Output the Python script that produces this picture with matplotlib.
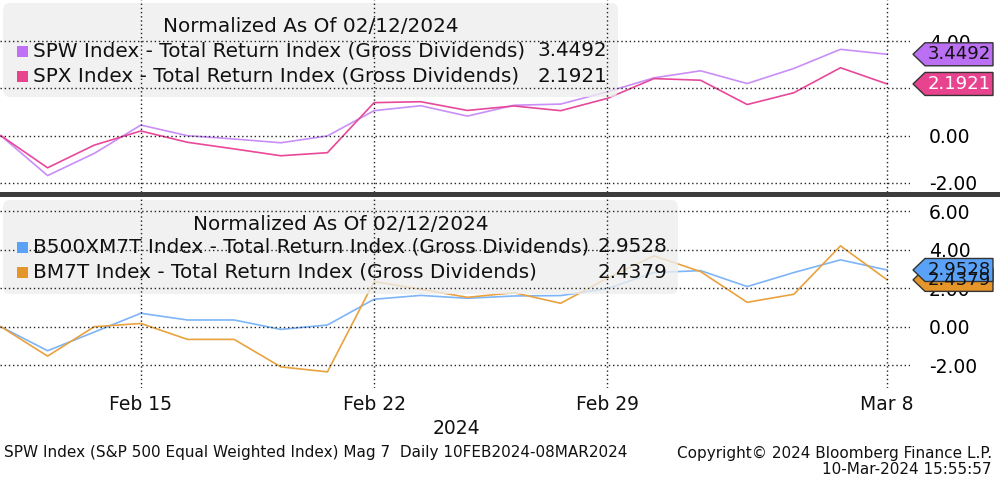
import matplotlib
matplotlib.use("Agg")
import matplotlib.pyplot as plt
import matplotlib.patches as mpatches
import matplotlib.transforms as mtransforms

# jours ouvrés du 12 fév au 8 mars 2024 (Bloomberg garde le 19 fév)
dates = ['Feb 12', 'Feb 13', 'Feb 14', 'Feb 15', 'Feb 16', 'Feb 19', 'Feb 20', 'Feb 21',
         'Feb 22', 'Feb 23', 'Feb 26', 'Feb 27', 'Feb 28', 'Feb 29', 'Mar 1', 'Mar 4',
         'Mar 5', 'Mar 6', 'Mar 7', 'Mar 8']
tick_labels = ['Feb 15', 'Feb 22', 'Feb 29', 'Mar 8']

# panneau du haut
spw = [0, -1.69, -0.75, 0.45, 0.0, -0.14, -0.30, -0.01, 1.06, 1.27, 0.83, 1.29, 1.34,
       1.86, 2.45, 2.75, 2.21, 2.85, 3.66, 3.4492]
spx = [0, -1.36, -0.40, 0.20, -0.28, -0.56, -0.85, -0.72, 1.40, 1.44, 1.07, 1.26, 1.06,
       1.58, 2.42, 2.35, 1.32, 1.82, 2.88, 2.1921]
# panneau du bas
b500 = [0, -1.25, -0.28, 0.70, 0.35, 0.35, -0.14, 0.09, 1.43, 1.63, 1.48, 1.60, 1.62,
        1.98, 2.82, 2.92, 2.09, 2.82, 3.48, 2.9528]
bm7t = [0, -1.53, 0.0, 0.17, -0.66, -0.66, -2.09, -2.35, 2.35, 1.95, 1.53, 1.77, 1.22,
        2.52, 3.69, 2.87, 1.27, 1.69, 4.21, 2.4379]

top_names = ['SPW Index - Total Return Index (Gross Dividends)',
             'SPX Index - Total Return Index (Gross Dividends)']
bot_names = ['B500XM7T Index - Total Return Index (Gross Dividends)',
             'BM7T Index - Total Return Index (Gross Dividends)']

W, H = 1000, 482
ident = mtransforms.IdentityTransform()
plt.rcParams['font.family'] = ['DejaVu Sans']

fig = plt.figure(figsize=(W / 100, H / 100), dpi=100)
fig.patch.set_facecolor('white')
ax1 = fig.add_axes([0, 1 - 192 / H, 910 / W, 192 / H])
ax2 = fig.add_axes([0, 1 - 388 / H, 910 / W, 190 / H])

x = list(range(len(dates)))
tick_pos = [dates.index(t) for t in tick_labels]


def px(xp, yp):
    # coordonnées pixel (origine en haut à gauche) -> affichage
    return (xp, H - yp)


def panel(ax, s1, s2, c1, c2, ylim, ygrid, ylabels):
    ax.plot(x, s1, color=c1, lw=1.2, zorder=2)
    ax.plot(x, s2, color=c2, lw=1.2, zorder=2)
    ax.set_xlim(-0.02, 19.49)
    ax.set_ylim(*ylim)
    for s in ax.spines.values():
        s.set_visible(False)
    for yv in ygrid:
        ax.axhline(yv, color='#222222', lw=1.0, ls=(0, (1, 2)), zorder=4)
    for xv in tick_pos:
        ax.axvline(xv, color='#222222', lw=1.0, ls=(0, (1, 2)), zorder=4)
    ax.set_xticks([])
    ax.yaxis.tick_right()
    ax.set_yticks(ylabels)
    ax.set_yticklabels(['%.2f' % v for v in ylabels])
    ax.tick_params(axis='y', length=0, pad=13.5, labelsize=13.5)


# le 2.00 du haut est caché par l'étiquette rose dans l'original
panel(ax1, spw, spx, '#c98ef8', '#e8489a', (-2.386, 5.75), [-2, 0, 2, 4], [-2, 0, 4])
panel(ax2, b500, bm7t, '#7db5f8', '#e9a23e', (-3.19, 6.70), [-2, 0, 2, 4, 6], [-2, 0, 2, 4, 6])

FS = 14.4


def legend(ax, x0, x1, y0, y1, ytitle, rows, names, vals, colors, vright):
    box = mpatches.FancyBboxPatch(px(x0, y1), x1 - x0, y1 - y0,
                                  boxstyle='round,pad=0,rounding_size=7',
                                  transform=ident, facecolor='#eeeeee', edgecolor='none',
                                  alpha=0.78, zorder=3, clip_on=False)
    ax.add_patch(box)
    ax.text(*px((x0 + x1) / 2, ytitle), 'Normalized As Of 02/12/2024', transform=ident,
            ha='center', va='center', fontsize=FS, color='#111111', zorder=5)
    for yr, name, val, col in zip(rows, names, vals, colors):
        sq = mpatches.Rectangle(px(17, yr + 6), 11, 11, transform=ident, facecolor=col,
                                edgecolor='none', zorder=5, clip_on=False)
        ax.add_patch(sq)
        ax.text(*px(33, yr), name, transform=ident, ha='left', va='center',
                fontsize=FS, color='#111111', zorder=5)
        ax.text(*px(vright, yr), '%.4f' % val, transform=ident, ha='right', va='center',
                fontsize=FS, color='#111111', zorder=5)


legend(ax1, 3, 618, 3, 97, 27, [51, 76], top_names, [spw[-1], spx[-1]],
       ['#c070f5', '#e8438f'], 607)
legend(ax2, 3, 678, 200, 294, 224, [247, 272], bot_names, [b500[-1], bm7t[-1]],
       ['#5aa2f8', '#e5962a'], 667)
ax1.set_xlim(-0.02, 19.49)
ax1.set_ylim(-2.386, 5.75)
ax2.set_xlim(-0.02, 19.49)
ax2.set_ylim(-3.19, 6.70)


def tag(ax, val, face, tcol):
    yd = ax.transData.transform((0, val))[1]
    pts = [(913, yd), (925, yd + 11.5), (993, yd + 11.5), (993, yd - 11.5), (925, yd - 11.5)]
    poly = mpatches.Polygon(pts, closed=True, transform=ident, facecolor=face,
                            edgecolor='#333333', lw=1.0, zorder=6)
    fig.add_artist(poly)
    fig.text(959, yd, '%.4f' % val, transform=ident, ha='center', va='center',
             fontsize=13, color=tcol, zorder=7)


tag(ax1, spw[-1], '#bb6ff3', '#111111')
tag(ax1, spx[-1], '#e8438f', 'white')
tag(ax2, bm7t[-1], '#e5962a', '#111111')
tag(ax2, b500[-1], '#5aa2f8', '#111111')

# séparateur entre les deux panneaux
fig.add_artist(mpatches.Rectangle(px(0, 197), W, 5, transform=ident,
                                  facecolor='#3c3c3c', edgecolor='none', zorder=8))

# axe des dates
for t in tick_labels:
    xd = ax2.transData.transform((dates.index(t), 0))[0]
    fig.text(xd, H - 404, t, transform=ident, ha='center', va='center',
             fontsize=13.5, color='#111111')
fig.text(456, H - 428, '2024', transform=ident, ha='center', va='center',
         fontsize=13.5, color='#111111')

fig.text(4, H - 453, 'SPW Index (S&P 500 Equal Weighted Index) Mag 7  Daily 10FEB2024-08MAR2024',
         transform=ident, ha='left', va='center', fontsize=11, color='#111111')
fig.text(992, H - 453, 'Copyright\u00a9 2024 Bloomberg Finance L.P.', transform=ident,
         ha='right', va='center', fontsize=11, color='#111111')
fig.text(992, H - 469, '10-Mar-2024 15:55:57', transform=ident,
         ha='right', va='center', fontsize=11, color='#111111')

fig.savefig('out.png', dpi=100)
